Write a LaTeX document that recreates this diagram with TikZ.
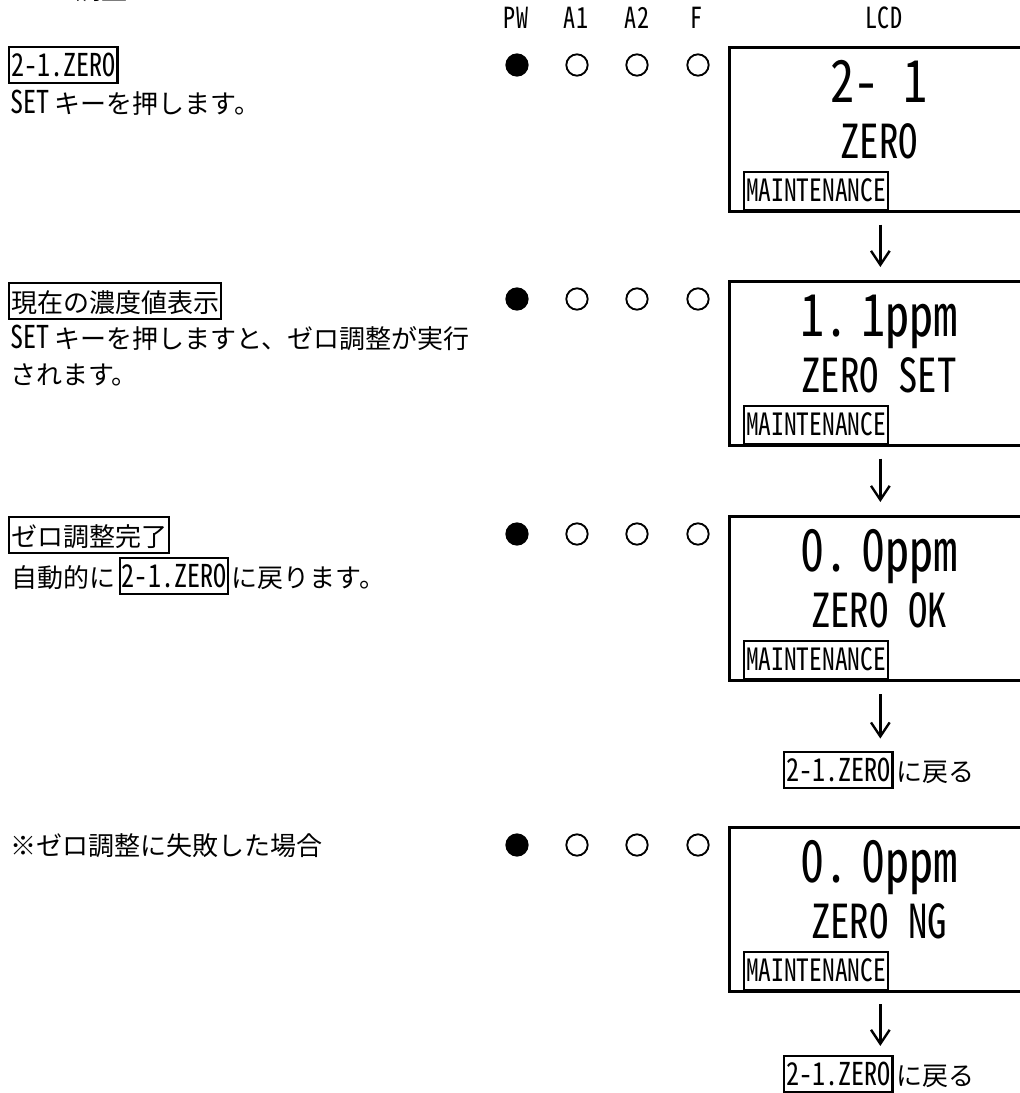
\documentclass[tikz,border=0pt]{standalone}
\usepackage{fontspec}
\usetikzlibrary{arrows.meta}
\newfontfamily\jp{Noto Sans CJK JP}
\newfontfamily\lt[RawFeature=+hwid,FakeStretch=0.83,Scale=1.21]{Noto Sans CJK JP}
\tikzset{
  txt/.style={anchor=base west, inner sep=0pt, font=\jp\fontsize{19.5}{23}\selectfont},
  lbox/.style={draw, line width=1.6pt, anchor=base west, inner xsep=1.5pt, inner ysep=0pt,
    text height=21.5pt, text depth=5.5pt, font=\jp\fontsize{19.5}{23}\selectfont},
  lcdbox/.style={draw, line width=2pt, anchor=north west, minimum width=226.5pt, minimum height=123pt, inner sep=0pt},
  bigtxt/.style={anchor=base, inner sep=0pt, font=\lt\fontsize{36}{40}\selectfont},
  midtxt/.style={anchor=base, inner sep=0pt, font=\lt\fontsize{29}{32}\selectfont},
  mbox/.style={draw, line width=1.6pt, anchor=base west, inner xsep=1.5pt, inner ysep=0pt,
    text height=21.75pt, text depth=6.75pt, font=\lt\fontsize{19}{22}\selectfont},
  led/.style={circle, draw, line width=1.4pt, minimum size=16pt, inner sep=0pt},
  ledon/.style={led, fill=black},
  hdr/.style={anchor=base, inner sep=0pt, font=\lt\fontsize{18}{21}\selectfont},
  arr/.style={-{Straight Barb[length=10.5pt,width=14pt]}, line width=1.8pt}
}
\begin{document}
\begin{tikzpicture}[x=0.75pt,y=-0.75pt]
\clip (0,0) rectangle (1020,1093);
\fill[white] (0,0) rectangle (1020,1093);

% cut-off title fragment
\node[txt] (ttl) at (75,-0.8) {調整};

% header
\node[hdr] (hpw) at (516,28) {PW};
\node[hdr] (ha1) at (576,28) {A1};
\node[hdr] (ha2) at (637,28) {A2};
\node[hdr] (hf) at (697,28) {F};
\node[hdr] (hlcd) at (884,28) {LCD};

% LEDs
\foreach \r/\y in {1/65,2/299,3/534,4/845}{
  \node[ledon] (pw\r) at (517,\y) {};
  \node[led] (aone\r) at (577,\y) {};
  \node[led] (atwo\r) at (637,\y) {};
  \node[led] (ff\r) at (698,\y) {};
}

% left column
\node[lbox] (l1h) at (8,76) {\lt 2-1.ZERO};
\node[txt] (l1t) at (10,113) {{\lt SET}\hspace{4pt}キーを押します。};

\node[lbox] (l2h) at (8,312) {現在の濃度値表示};
\node[txt] (l2t) at (10,348) {{\lt SET}\hspace{4pt}キーを押しますと、ゼロ調整が実行};
\node[txt] (l2u) at (10,384) {されます。};

\node[lbox] (l3h) at (8,546) {ゼロ調整完了};
\node[txt] (l3a) at (11,587) {自動的に};
\node[lbox] (l3b) at ([xshift=2.5pt]l3a.base east) {\lt 2-1.ZERO\hspace{2pt}};
\node[txt] (l3c) at ([xshift=1.5pt]l3b.base east) {に戻ります。};

\node[txt] (l4t) at (10,855) {※ゼロ調整に失敗した場合};

% LCD boxes
\foreach \r/\t/\a/\b in {1/46/{2- 1}/{ZERO},2/280/{1.\hspace{0.22em}1ppm}/{ZERO SET},3/515/{0.\hspace{0.22em}0ppm}/{ZERO OK},4/826/{0.\hspace{0.22em}0ppm}/{ZERO NG}}{
  \node[lcdbox] (lcd\r) at (728,\t) {};
  \node[bigtxt] (lcdA\r) at (879,\t+56) {\a};
  \node[midtxt] (lcdB\r) at (879,\t+112) {\b};
  \node[mbox] (lcdM\r) at (743,\t+155) {MAINTENANCE};
}

% return labels
\node[lbox] (bk1) at (783,781) {\lt 2-1.ZERO\hspace{2pt}};
\node[txt] (bk1t) at ([xshift=2pt]bk1.base east) {に戻る};
\node[lbox] (bk2) at (783,1085) {\lt 2-1.ZERO\hspace{2pt}};
\node[txt] (bk2t) at ([xshift=2pt]bk2.base east) {に戻る};

% arrows
\draw[arr, shorten <=9pt, shorten >=9.75pt] (lcd1.south) -- (lcd2.north);
\draw[arr, shorten <=9pt, shorten >=9.75pt] (lcd2.south) -- (lcd3.north);
\draw[arr, shorten <=9.5pt, shorten >=9.5pt] (lcd3.south) -- (lcd3.south |- bk1.north);
\draw[arr, shorten <=8.5pt, shorten >=7pt] (lcd4.south) -- (lcd4.south |- bk2.north);
\end{tikzpicture}
\end{document}
